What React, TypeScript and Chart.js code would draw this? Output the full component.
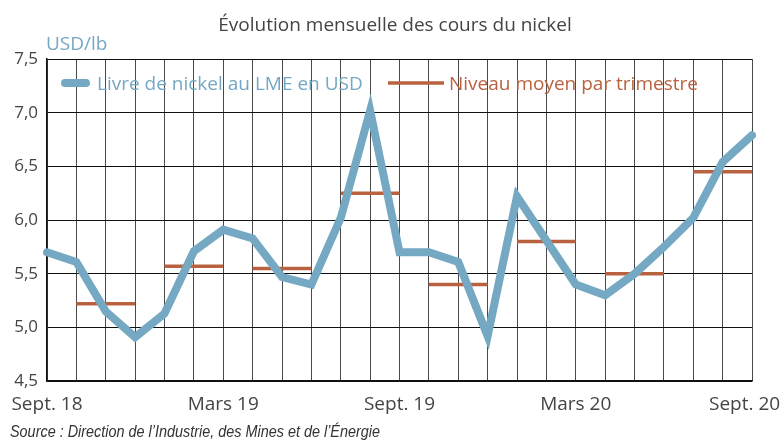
import React, { useEffect, useRef } from "react";
import { Chart, registerables } from "chart.js";

Chart.register(...registerables);

const chartTitle = "Évolution mensuelle des cours du nickel";
const unitLabel = "USD/lb";
const sourceText = "Source : Direction de l’Industrie, des Mines et de l’Énergie";

const months = [
  "Sept. 18", "Oct. 18", "Nov. 18", "Déc. 18",
  "Janv. 19", "Févr. 19", "Mars 19", "Avr. 19", "Mai 19", "Juin 19", "Juil. 19", "Août 19", "Sept. 19",
  "Oct. 19", "Nov. 19", "Déc. 19",
  "Janv. 20", "Févr. 20", "Mars 20", "Avr. 20", "Mai 20", "Juin 20", "Juil. 20", "Août 20", "Sept. 20",
];
const labeledMonths = ["Sept. 18", "Mars 19", "Sept. 19", "Mars 20", "Sept. 20"];

const nickelPrice = [
  5.70, 5.61, 5.15, 4.91, 5.13, 5.71, 5.91, 5.83, 5.47, 5.40, 6.02, 7.02, 5.70,
  5.70, 5.61, 4.92, 6.22, 5.81, 5.40, 5.30, 5.50, 5.75, 6.02, 6.54, 6.79,
];

// quarterly averages, each spanning 3 months starting at quarterStartIndex
const quarterNames = ["T4 18", "T1 19", "T2 19", "T3 19", "T4 19", "T1 20", "T2 20", "T3 20"];
const quarterStartIndex = [1, 4, 7, 10, 13, 16, 19, 22];
const quarterAverage = [5.22, 5.57, 5.55, 6.25, 5.40, 5.80, 5.50, 6.45];

const seriesNames = ["Livre de nickel au LME en USD", "Niveau moyen par trimestre"];

const BLUE = "#74a8c3";
const RUST = "#b9623f";
const TEXT = "#444444";
const FONT = "'Open Sans', 'Noto Sans', sans-serif";

function buildQuarterSeries(): (number | null)[] {
  const arr: (number | null)[] = months.map(() => null);
  quarterStartIndex.forEach((start, q) => {
    for (let k = 0; k < 3; k++) {
      if (start + k < arr.length) arr[start + k] = quarterAverage[q];
    }
  });
  return arr;
}

function quarterOf(i: number): number {
  let q = -1;
  quarterStartIndex.forEach((s, k) => {
    if (i >= s && i < s + 3) q = k;
  });
  return q;
}

const decorPlugin = {
  id: "decor",
  afterDraw(chart: any) {
    const ctx = chart.ctx;
    const area = chart.chartArea;
    ctx.save();
    // title
    ctx.fillStyle = TEXT;
    ctx.font = `19px ${FONT}`;
    ctx.textAlign = "center";
    ctx.textBaseline = "alphabetic";
    ctx.fillText(chartTitle, 395, 31);
    // unit
    ctx.fillStyle = BLUE;
    ctx.textAlign = "left";
    ctx.fillText(unitLabel, area.left - 1, 50);
    // legend
    const ly = 83;
    ctx.lineCap = "round";
    ctx.strokeStyle = BLUE;
    ctx.lineWidth = 8;
    ctx.beginPath();
    ctx.moveTo(65, ly);
    ctx.lineTo(86, ly);
    ctx.stroke();
    ctx.fillStyle = BLUE;
    ctx.fillText(seriesNames[0], 97, 90);
    ctx.lineCap = "butt";
    ctx.strokeStyle = RUST;
    ctx.lineWidth = 3.5;
    ctx.beginPath();
    ctx.moveTo(388, ly);
    ctx.lineTo(444, ly);
    ctx.stroke();
    ctx.fillStyle = RUST;
    ctx.fillText(seriesNames[1], 449, 90);
    ctx.restore();
    // source (condensed italic)
    ctx.save();
    ctx.fillStyle = "#333333";
    ctx.font = `italic 16px 'Liberation Sans Narrow', 'Liberation Sans', sans-serif`;
    ctx.textAlign = "left";
    ctx.textBaseline = "alphabetic";
    const w = ctx.measureText(sourceText).width;
    const sx = w > 0 ? Math.min(1, 370 / w) : 1;
    ctx.translate(10, 437);
    ctx.scale(sx, 1);
    ctx.fillText(sourceText, 0, 0);
    ctx.restore();
  },
};

export default function App() {
  const canvasRef = useRef<HTMLCanvasElement | null>(null);

  useEffect(() => {
    document.body.style.margin = "0";
    const canvas = canvasRef.current;
    if (!canvas) return;
    const chart = new Chart(canvas, {
      type: "line",
      data: {
        labels: months,
        datasets: [
          {
            label: seriesNames[1],
            data: buildQuarterSeries(),
            borderColor: RUST,
            borderWidth: 3.5,
            borderCapStyle: "butt",
            pointRadius: 0,
            spanGaps: false,
            segment: {
              borderColor: (c: any) =>
                quarterOf(c.p0DataIndex) !== quarterOf(c.p1DataIndex) ? "rgba(0,0,0,0)" : RUST,
            },
            order: 1,
          } as any,
          {
            label: seriesNames[0],
            data: nickelPrice,
            borderColor: BLUE,
            borderWidth: 8,
            borderJoinStyle: "miter",
            borderCapStyle: "round",
            pointRadius: 0,
            tension: 0,
            order: 0,
          } as any,
        ],
      },
      options: {
        animation: false,
        responsive: true,
        maintainAspectRatio: false,
        events: [],
        layout: { padding: { top: 59, right: 29, bottom: 13, left: 0 } },
        plugins: {
          legend: { display: false },
          tooltip: { enabled: false },
          title: { display: false },
        },
        scales: {
          x: {
            type: "category",
            offset: false,
            grid: { color: "#4a4a4a", lineWidth: 1, drawTicks: false },
            border: { color: "#111111", width: 1.5 },
            ticks: {
              autoSkip: false,
              maxRotation: 0,
              padding: 12,
              color: TEXT,
              font: { family: FONT, size: 19 },
              callback: function (this: any, _v: any, i: number) {
                const m = months[i];
                if (!labeledMonths.includes(m)) return "";
                return i === months.length - 1 ? m + "   " : m;
              },
            },
            afterFit: (scale: any) => {
              scale.paddingRight = 0;
              scale.paddingLeft = 0;
            },
          },
          y: {
            min: 4.5,
            max: 7.5,
            grid: { color: "#111111", lineWidth: 1, drawTicks: false },
            border: { color: "#111111", width: 1.5 },
            ticks: {
              stepSize: 0.5,
              padding: 9,
              color: TEXT,
              font: { family: FONT, size: 17 },
              callback: (v: any) => Number(v).toFixed(1).replace(".", ","),
            },
            afterFit: (scale: any) => {
              scale.width = 47;
            },
          },
        },
      } as any,
      plugins: [decorPlugin],
    });
    return () => chart.destroy();
  }, []);

  return (
    <div style={{ position: "relative", width: 781, height: 441, background: "#ffffff" }}>
      <canvas ref={canvasRef} />
    </div>
  );
}
